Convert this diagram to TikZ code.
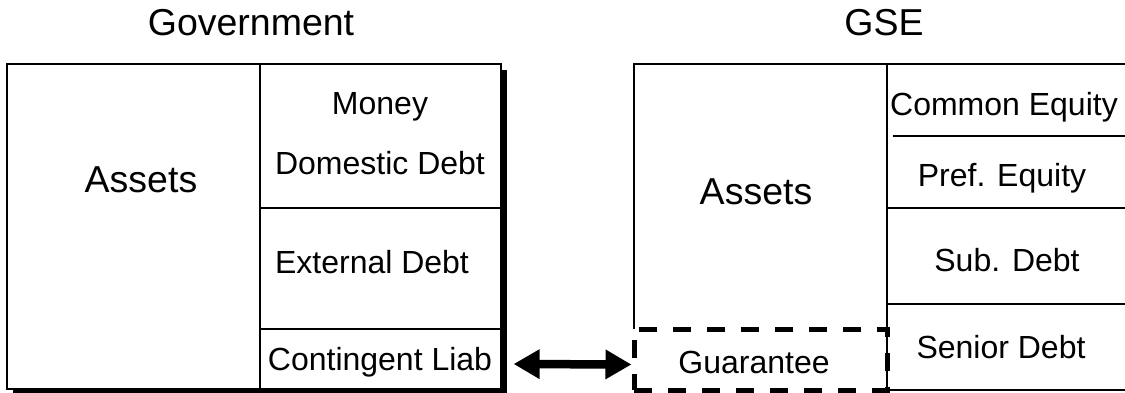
\documentclass[tikz,border=0pt]{standalone}
\usepackage{fontspec}
\setmainfont{Liberation Sans}
\usepackage{tikz}
\usetikzlibrary{arrows.meta,shadows}

\begin{document}
\begin{tikzpicture}[x=1pt, y=-1pt,
        cell/.style={draw, line width=1.2pt, inner sep=0pt, fill=white},
        txt/.style={font=\fontsize{32}{36}\selectfont, inner sep=0pt},
        big/.style={font=\fontsize{37.5}{42}\selectfont, inner sep=0pt},
        rule/.style={line width=1.2pt},
        guar/.style={draw, line width=5pt, dash pattern=on 18pt off 16pt,
                     inner sep=0pt, minimum width=253pt, minimum height=61pt},
        dbl/.style={{Triangle[length=26pt,width=28pt]}-{Triangle[length=26pt,width=28pt]},
                    line width=8.5pt}
    ]
        \useasboundingbox (0,0) rectangle (1125,392);

        % ── Government balance sheet ──────────────────────────────────────
        \node[cell, minimum width=494pt, minimum height=325pt,
              drop shadow={shadow xshift=6pt, shadow yshift=-6pt, opacity=1, fill=black}]
              (gov) at (254,226.5) {};
        \node[cell, minimum width=253pt, minimum height=325pt] (gassets) at (133.5,226.5) {};
        \node[cell, minimum width=241pt, minimum height=144pt] (gdom)  at (380.5,136) {};
        \node[cell, minimum width=241pt, minimum height=121pt] (gext)  at (380.5,268.5) {};
        \node[cell, minimum width=241pt, minimum height=60pt]  (gcont) at (380.5,359) {};

        \node[big] (govtitle) at (251,23)  {Government};
        \node[big] (gasstxt)  at (141,180) {Assets};
        \node[txt] (money)    at (380,107) {Money};
        \node[txt] (domdebt)  at (380,163) {Domestic Debt};
        \node[txt] (extdebt)  at (372,262) {External Debt};
        \node[txt] (contliab) at (380,362) {Contingent Liab};

        % ── GSE balance sheet (open at the right) ─────────────────────────
        \draw[rule] (1125,64) -- (634,64) -- (634,329);
        \draw[rule] (887,64) -- (887,390) -- (1125,390);
        \draw[line width=2pt] (893,136) -- (1125,136);
        \draw[rule] (887,208) -- (1125,208);
        \draw[rule] (887,304) -- (1125,304);
        \node[guar] (guarbox) at (760.5,359.5) {};

        \node[big] (gsetitle) at (884,23)   {GSE};
        \node[big] (sasstxt)  at (756,192)  {Assets};
        \node[txt] (comeq)    at (1004,107) {Common Equity};
        \node[txt] (prefeq)   at (1002,178) {Pref. Equity};
        \node[txt] (subdebt)  at (1007,260) {Sub. Debt};
        \node[txt] (sendebt)  at (1001,347) {Senior Debt};
        \node[txt] (guartxt)  at (754,362)  {Guarantee};

        % ── contingent liability <-> guarantee ────────────────────────────
        \draw[dbl] ([shift={(12pt,-5pt)}]gcont.east) -- ([yshift=-5pt]guarbox.west);

    \end{tikzpicture}
\end{document}
